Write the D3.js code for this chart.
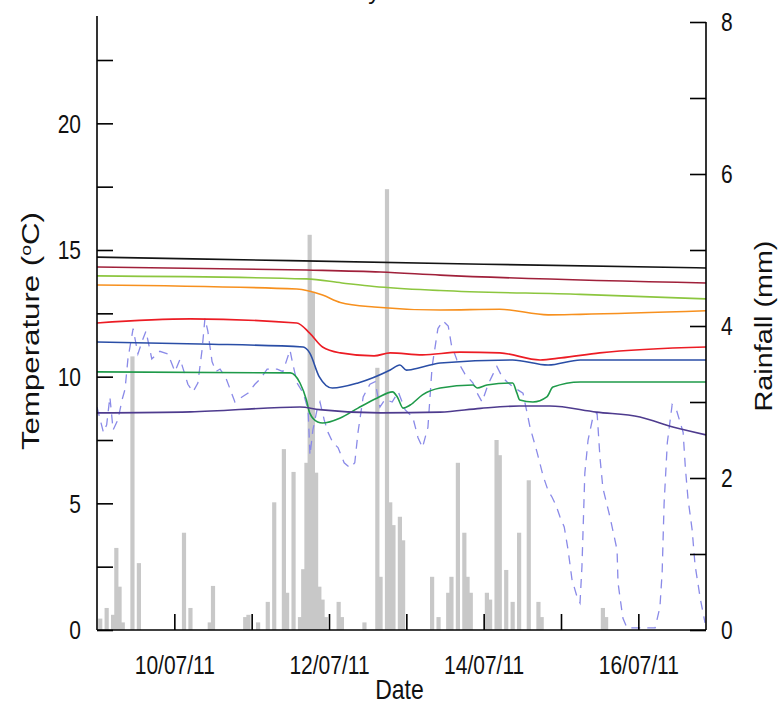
<!DOCTYPE html>
<html>
<head>
<meta charset="utf-8">
<script src="https://cdn.jsdelivr.net/npm/d3@7/dist/d3.min.js"></script>
<style>
  html, body { margin: 0; padding: 0; background: #fff; }
  svg { display: block; font-family: "Liberation Sans", Arial, sans-serif; }
</style>
</head>
<body>
<svg id="chart" width="780" height="707"></svg>
<script>
// ---- time axis: hours counted from 09/07/2011 00:00 ----
const startTime = new Date(2011, 6, 9, 0, 0);
const endTime = new Date(2011, 6, 16, 21, 0);
const dateTicks = ["2011-07-10", "2011-07-11", "2011-07-12", "2011-07-13", "2011-07-14", "2011-07-15", "2011-07-16"];
const dateLabelEvery = 2;

// ---- hourly rainfall (mm) ----
const rainHours = [1, 3, 5, 6, 7, 8, 11, 13, 27, 29, 35, 36, 46, 47, 50, 53, 55, 58, 59, 61, 63, 64, 65, 66, 67, 68, 69, 70, 71,
  75, 76, 83, 87, 88, 90, 91, 92, 94, 95, 104, 106, 109, 110, 112, 114, 115, 116, 121, 122, 124, 125, 127, 129, 131, 134, 137, 138, 157, 158];
const rainMm = [0.15, 0.29, 0.2, 1.08, 0.57, 0.1, 3.6, 0.88, 1.28, 0.29, 0.1, 0.58, 0.17, 0.2, 0.1, 0.37, 1.68, 2.38, 0.49, 2.08, 0.17, 0.8, 2.2, 5.2, 4.45, 2.07, 0.57, 0.4, 0.17,
  0.37, 0.17, 0.1, 3.45, 0.7, 5.8, 1.68, 1.38, 1.49, 1.18, 0.7, 0.17, 0.49, 0.7, 2.2, 1.28, 0.7, 0.49, 0.49, 0.4, 2.5, 2.3, 0.79, 0.37, 1.28, 1.97, 0.37, 0.17, 0.29, 0.17];

// ---- air temperature (°C) ----
const airHours = [0, 1, 2, 3, 4, 5, 6.5, 7.8, 8.7, 9.6, 11.2, 12.7, 14, 15.2, 17, 19.5, 22, 24.2, 25.8, 28.2, 29.8, 31.3, 32.6, 33.5, 34.4, 35.7, 36.9, 38.2, 40,
  42.8, 45, 46.9, 49, 50.6, 52.8, 55.9, 57.7, 59.9, 60.5, 62.1, 64, 65.5, 66.1, 67, 68.3, 69.2, 70.5, 71.7, 73.2, 74.8, 76.7, 78.5, 80, 81, 82.6, 84.7, 86.3, 87.8, 89.4,
  91.6, 93.5, 95.6, 98, 99.6, 101, 102.7, 104, 105.8, 107.4, 109, 110, 111.7, 114.2, 116.7, 118.2, 119.5, 121.4, 122.9, 124.1, 125.7, 127.2, 129.1, 132.2, 134.4, 136.6,
  138.4, 140, 141.2, 142.5, 143.7, 145, 146.2, 147.4, 149, 149.9, 150.5, 151.4, 152.4, 153.9, 155.2, 156.1, 157, 159.2, 161.4, 161.7, 163.2, 164.5, 168.5, 173.2,
  174.7, 175.4, 176, 177, 178.5, 179.8, 181.9, 182.6, 183.4, 184.7, 185.6, 187.2, 188.7];
const airTemp = [8.8, 8.3, 7.8, 8.1, 9.2, 7.9, 8.3, 9.1, 9.5, 10.7, 11.9, 10.9, 11.4, 11.8, 10.7, 11.0, 10.9, 10.2, 10.7, 9.7, 9.4, 9.75, 11.05, 12.3, 11.8, 10.6, 10.2, 10.3, 9.95,
  9.0, 9.2, 9.35, 9.7, 9.9, 10.3, 10.3, 10.2, 11.05, 10.66, 9.75, 9.35, 8.7, 6.9, 7.9, 8.7, 9.0, 8.3, 7.8, 7.4, 7.2, 6.6, 6.4, 6.6, 7.8, 9.2, 9.7, 9.8, 8.8, 9.1,
  9.0, 9.4, 8.7, 8.4, 7.6, 7.2, 8.0, 10.4, 11.9, 12.2, 12.0, 11.25, 10.66, 10.1, 9.75, 9.3, 9.0, 9.7, 10.1, 10.4, 10.0, 9.8, 9.6, 9.35, 8.0, 7.0,
  6.1, 5.5, 5.25, 4.9, 4.46, 4.07, 3.16, 2.0, 1.3, 1.07, 2.5, 6.2, 7.5, 8.4, 8.57, 6.8, 5.6, 4.46, 3.16, 1.86, 0.47, 0.08, 0.08, 0.08,
  0.9, 2.3, 5.0, 7.4, 8.9, 8.7, 7.8, 6.4, 5.2, 3.95, 2.57, 1.26, 0.28];

// ---- soil temperature (°C), one series per probe ----
const blackHours = [0, 60, 120, 189];
const blackTemp = [14.72, 14.58, 14.44, 14.29];
const maroonHours = [0, 65, 88, 106.5, 189];
const maroonTemp = [14.33, 14.21, 14.13, 14.01, 13.70];
const limeHours = [0, 65, 76, 86, 106.5, 150, 189];
const limeTemp = [13.98, 13.86, 13.70, 13.56, 13.40, 13.25, 13.07];
const orangeHours = [0, 62, 70, 75.5, 86, 106.5, 125, 140, 150, 189];
const orangeTemp = [13.62, 13.46, 13.22, 12.93, 12.75, 12.63, 12.66, 12.44, 12.46, 12.60];
const redHours = [0, 29, 62, 66, 70, 75.5, 86, 91, 101, 112.7, 125, 137.5, 144, 156, 189];
const redTemp = [12.12, 12.28, 12.12, 11.72, 11.17, 10.94, 10.82, 10.94, 10.86, 10.97, 10.94, 10.66, 10.74, 10.94, 11.17];
const blueHours = [0, 32, 64, 66, 69, 73, 81, 91, 94, 96, 101, 106.5, 129, 140, 150, 189];
const blueTemp = [11.37, 11.29, 11.17, 10.94, 9.99, 9.55, 9.75, 10.26, 10.46, 10.26, 10.38, 10.54, 10.66, 10.46, 10.66, 10.66];
const greenHours = [0, 60, 63, 65, 66, 68.5, 70, 75.5, 81, 87, 91.7, 93.2, 95, 97.2, 101, 106.5, 116.7, 118, 121, 129, 130.3, 131.2, 135.3, 139.6, 141.5, 150, 189];
const greenTemp = [10.19, 10.15, 9.75, 9.08, 8.57, 8.21, 8.17, 8.37, 8.76, 9.16, 9.40, 9.2, 8.76, 8.88, 9.28, 9.55, 9.67, 9.55, 9.67, 9.75, 9.36, 9.08, 9.0, 9.2, 9.59, 9.79, 9.79];
const purpleHours = [0, 29, 63, 69, 88, 106.5, 119, 131, 140.5, 155, 168.5, 179, 189];
const purpleTemp = [8.57, 8.61, 8.80, 8.70, 8.57, 8.60, 8.75, 8.84, 8.84, 8.6, 8.41, 8.0, 7.70];

const soilSeries = [
  { hours: blackHours, temps: blackTemp, color: "#141414" },
  { hours: maroonHours, temps: maroonTemp, color: "#a0203a" },
  { hours: limeHours, temps: limeTemp, color: "#8cc63f" },
  { hours: orangeHours, temps: orangeTemp, color: "#f7901e" },
  { hours: redHours, temps: redTemp, color: "#ec1c24" },
  { hours: blueHours, temps: blueTemp, color: "#2a4ea6" },
  { hours: greenHours, temps: greenTemp, color: "#1f9a4a" },
  { hours: purpleHours, temps: purpleTemp, color: "#4e3b8e" }
];

const hourToDate = h => new Date(startTime.getTime() + h * 3600 * 1000);

// ---- layout ----
const svg = d3.select("#chart");
const margin = { top: 22, right: 74, bottom: 77, left: 97 };
const W = 780, H = 707;
const x0 = margin.left, x1 = W - margin.right, y0 = H - margin.bottom, y1 = margin.top;
const textStretch = 1.2;   // glyphs are drawn a little taller than wide

const x = d3.scaleTime().domain([startTime, endTime]).range([x0, x1]);
const yT = d3.scaleLinear().domain([0, 24]).range([y0, y1]);
const yR = d3.scaleLinear().domain([0, 8]).range([y0, y1]);

svg.append("defs").append("clipPath").attr("id", "plotClip")
  .append("rect").attr("x", x0).attr("y", y1 - 12).attr("width", x1 - x0).attr("height", y0 - y1 + 12);

const plot = svg.append("g").attr("clip-path", "url(#plotClip)");

// rainfall bars
const hourW = x(hourToDate(1)) - x(hourToDate(0));
plot.append("g").selectAll("rect")
  .data(rainHours.map((h, i) => ({ h, v: rainMm[i] })))
  .join("rect")
  .attr("x", d => x(hourToDate(d.h)) - hourW * 0.65)
  .attr("width", hourW * 1.3)
  .attr("y", d => yR(d.v))
  .attr("height", d => yR(0) - yR(d.v))
  .attr("fill", "#c8c8c8");

// air temperature, dashed
const airLine = d3.line().x(d => x(hourToDate(d[0]))).y(d => yT(d[1]));
plot.append("path")
  .datum(airHours.map((h, i) => [h, airTemp[i]]))
  .attr("d", airLine)
  .attr("fill", "none")
  .attr("stroke", "#8a8ae8")
  .attr("stroke-width", 1.3)
  .attr("stroke-dasharray", "9,7");

// soil temperature lines
const soilLine = d3.line().curve(d3.curveMonotoneX)
  .x(d => x(hourToDate(d[0]))).y(d => yT(d[1]));
soilSeries.forEach(s => {
  plot.append("path")
    .datum(s.hours.map((h, i) => [h, s.temps[i]]))
    .attr("d", soilLine)
    .attr("fill", "none")
    .attr("stroke", s.color)
    .attr("stroke-width", 1.6);
});

// ---- axes ----
const tickLen = 16;
const axisFont = "21px";

// left temperature axis
const leftAxis = d3.axisLeft(yT).tickValues(d3.range(0, 24, 2.5))
  .tickSize(-tickLen).tickFormat(d => (d % 5 === 0 ? d3.format("d")(d) : ""));
const gl = svg.append("g").attr("transform", `translate(${x0},0)`).call(leftAxis);

// right rainfall axis
const rightAxis = d3.axisRight(yR).tickValues(d3.range(0, 9, 1))
  .tickSize(-tickLen).tickFormat(d => (d % 2 === 0 ? d3.format("d")(d) : ""));
const gr = svg.append("g").attr("transform", `translate(${x1},0)`).call(rightAxis);

// bottom date axis
const bottomAxis = d3.axisBottom(x)
  .tickValues(dateTicks.map(s => d3.timeParse("%Y-%m-%d")(s)))
  .tickSize(-tickLen)
  .tickFormat((d, i) => (i % dateLabelEvery === 0 ? d3.timeFormat("%d/%m/%y")(d) : ""));
const gb = svg.append("g").attr("transform", `translate(0,${y0})`).call(bottomAxis);

[gl, gr, gb].forEach(g => {
  g.select(".domain").attr("stroke", "#000").attr("stroke-width", 1.6);
  g.selectAll(".tick line").attr("stroke", "#000").attr("stroke-width", 1.6);
  g.selectAll(".tick text").attr("fill", "#111").style("font-size", axisFont)
    .style("font-family", "'Liberation Sans', Arial, sans-serif");
});
gl.select(".domain").attr("d", `M0,${y0}V${y1 - 6}`);
gr.select(".domain").attr("d", `M0,${y0}V${y1}`);
gb.select(".domain").attr("d", `M${x0},0H${x1}`);
gl.selectAll(".tick text").attr("x", 0).attr("dy", "0.35em")
  .attr("transform", `translate(-16,0) scale(1,${textStretch})`);
gr.selectAll(".tick text").attr("x", 0).attr("dy", "0.35em")
  .attr("transform", `translate(15,0) scale(1,${textStretch})`);
gb.selectAll(".tick text").attr("y", 0).attr("dy", 0)
  .attr("transform", `translate(0,44) scale(1,${textStretch})`);

// axis titles
svg.append("text")
  .attr("transform", `translate(39,331) scale(1,1.3) rotate(-90)`)
  .attr("text-anchor", "middle").style("font-size", "24px").attr("fill", "#111")
  .html('Temperature (<tspan dy="-8" font-size="15px">o</tspan><tspan dy="8">C)</tspan>');

svg.append("text")
  .attr("transform", `translate(772,326) scale(1,1.25) rotate(-90)`)
  .attr("text-anchor", "middle").style("font-size", "23px").attr("fill", "#111")
  .text("Rainfall (mm)");

svg.append("text")
  .attr("transform", `translate(${(x0 + x1) / 2 - 2},699) scale(1,${textStretch})`)
  .attr("text-anchor", "middle").style("font-size", "23px").attr("fill", "#111")
  .text("Date");

// chart title, sitting above the frame
svg.append("text")
  .attr("x", 388).attr("y", -1)
  .attr("text-anchor", "middle").style("font-size", "24px").attr("fill", "#111")
  .text("July 2011");
</script>
</body>
</html>
